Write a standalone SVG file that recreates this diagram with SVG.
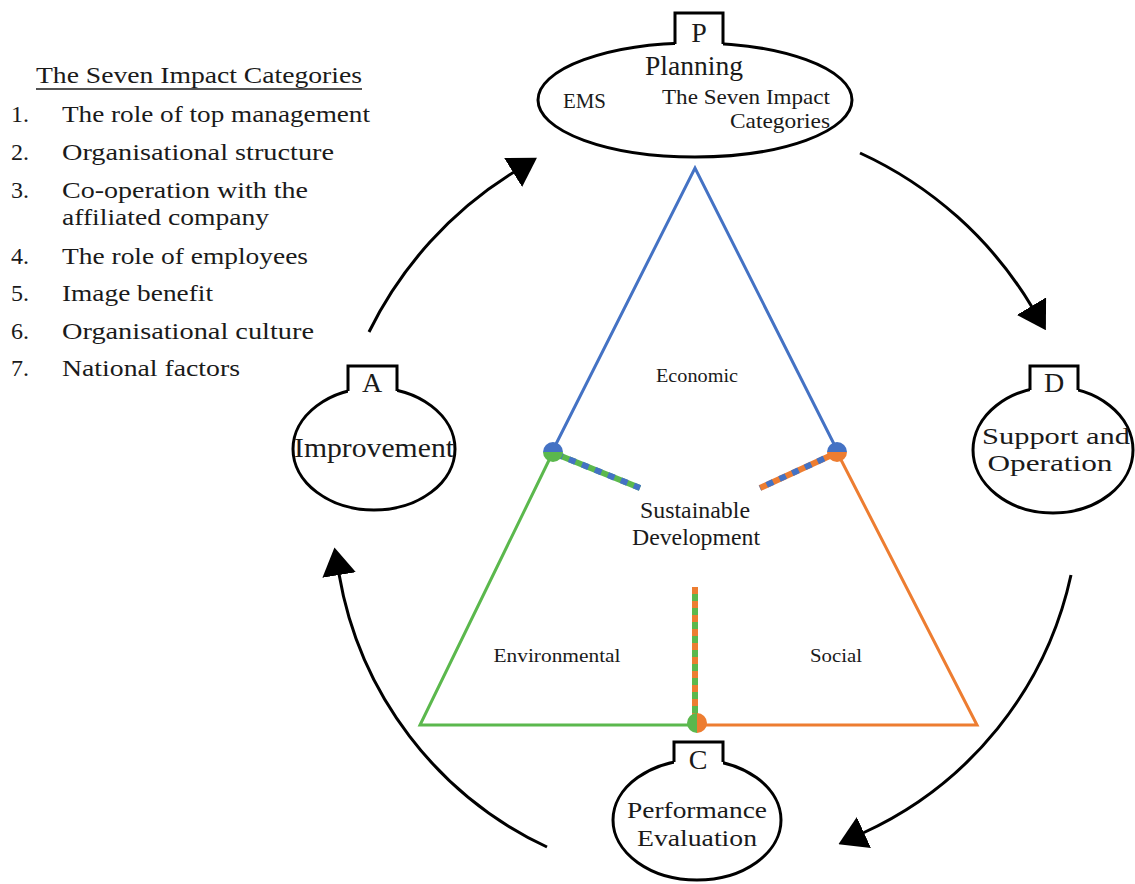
<svg xmlns="http://www.w3.org/2000/svg" width="1135" height="884" viewBox="0 0 1135 884">
<style>
  text { font-family: "Liberation Serif", "Times New Roman", serif; fill: #1a1a1a; }
  .list { font-size: 24px; }
  .node { font-size: 24px; text-anchor: middle; }
  .big { font-size: 27px; text-anchor: middle; }
  .letter { font-size: 28px; text-anchor: middle; }
  .small { font-size: 21px; }
  .pillar { font-size: 18.5px; text-anchor: middle; }
  .sd { font-size: 23px; text-anchor: middle; }
  .shape { fill: #fff; stroke: #000; stroke-width: 3; }
  .tabfill { fill: #fff; stroke: none; }
  .tab { fill: none; stroke: #000; stroke-width: 3; }
  .arc { fill: none; stroke: #000; stroke-width: 3; marker-end: url(#ah); }
  .blue { stroke: #4472C4; }
  .green { stroke: #5BB84D; }
  .orange { stroke: #ED7D31; }
  .edge { fill: none; stroke-width: 3; stroke-linejoin: miter; }
  .stripe { fill: none; stroke-width: 6; }
  .dash { fill: none; stroke-width: 6; stroke-dasharray: 7 7; }
</style>
<defs>
  <marker id="ah" markerUnits="userSpaceOnUse" markerWidth="28" markerHeight="34" viewBox="0 0 28 34" refX="1" refY="17" orient="auto">
    <path d="M0,0 L28,17 L0,34 z" fill="#000"/>
  </marker>
</defs>
<rect width="1135" height="884" fill="#fff"/>

<g id="legend">
  <text class="list" x="36" y="83" textLength="326" lengthAdjust="spacingAndGlyphs">The Seven Impact Categories</text>
  <line x1="36" y1="89" x2="362" y2="89" stroke="#1a1a1a" stroke-width="1.5"/>
  <text class="list" x="11" y="122">1.</text><text class="list" x="62" y="122" textLength="308" lengthAdjust="spacingAndGlyphs">The role of top management</text>
  <text class="list" x="11" y="160">2.</text><text class="list" x="62" y="160" textLength="272" lengthAdjust="spacingAndGlyphs">Organisational structure</text>
  <text class="list" x="11" y="198">3.</text><text class="list" x="62" y="198" textLength="246" lengthAdjust="spacingAndGlyphs">Co-operation with the</text>
  <text class="list" x="62" y="225" textLength="207" lengthAdjust="spacingAndGlyphs">affiliated company</text>
  <text class="list" x="11" y="264">4.</text><text class="list" x="62" y="264" textLength="246" lengthAdjust="spacingAndGlyphs">The role of employees</text>
  <text class="list" x="11" y="301">5.</text><text class="list" x="62" y="301" textLength="151" lengthAdjust="spacingAndGlyphs">Image benefit</text>
  <text class="list" x="11" y="339">6.</text><text class="list" x="62" y="339" textLength="252" lengthAdjust="spacingAndGlyphs">Organisational culture</text>
  <text class="list" x="11" y="376">7.</text><text class="list" x="62" y="376" textLength="178" lengthAdjust="spacingAndGlyphs">National factors</text>
</g>

<g id="connectors">
  <path class="arc" d="M369,332 A 390 390 0 0 1 514,172"/>
  <path class="arc" d="M860,153 A 390 390 0 0 1 1032,307"/>
  <path class="arc" d="M1071,575 A 370 370 0 0 1 863,833"/>
  <path class="arc" d="M547,847 A 370 370 0 0 1 339,574"/>
</g>

<g id="triangle">
  <path class="edge blue" d="M553,450 L695,168 L837,450"/>
  <path class="edge green" d="M553,452 L420,725 L697,725"/>
  <path class="edge orange" d="M837,452 L977,725 L697,725"/>
  <line class="stripe green" x1="556" y1="454" x2="640" y2="488"/>
  <line class="dash blue" x1="556" y1="454" x2="640" y2="488"/>
  <line class="stripe orange" x1="834" y1="454" x2="760" y2="488"/>
  <line class="dash blue" x1="834" y1="454" x2="760" y2="488" stroke-dashoffset="3"/>
  <line class="stripe green" x1="695" y1="587" x2="695" y2="720"/>
  <line class="dash orange" x1="695" y1="587" x2="695" y2="720"/>
  <path d="M543,452 A10,10 0 0 1 563,452 z" fill="#4472C4"/>
  <path d="M543,452 A10,10 0 0 0 563,452 z" fill="#5BB84D"/>
  <path d="M827,452 A10,10 0 0 0 847,452 z" fill="#ED7D31"/>
  <path d="M827,452 A10,10 0 0 1 847,452 z" fill="#4472C4"/>
  <path d="M697,713 A10,10 0 0 0 697,733 z" fill="#5BB84D"/>
  <path d="M697,713 A10,10 0 0 1 697,733 z" fill="#ED7D31"/>
  <text class="pillar" x="697" y="382" textLength="82" lengthAdjust="spacingAndGlyphs">Economic</text>
  <text class="pillar" x="557" y="662" textLength="127" lengthAdjust="spacingAndGlyphs">Environmental</text>
  <text class="pillar" x="836" y="662" textLength="52" lengthAdjust="spacingAndGlyphs">Social</text>
  <text class="sd" x="695" y="518" textLength="110" lengthAdjust="spacingAndGlyphs">Sustainable</text>
  <text class="sd" x="696" y="545" textLength="128" lengthAdjust="spacingAndGlyphs">Development</text>
</g>

<g id="node-p">
  <ellipse class="shape" cx="695" cy="100" rx="157" ry="57"/>
  <rect class="tabfill" x="675" y="13" width="48" height="36"/>
  <path class="tab" d="M675,44 V13 H723 V44"/>
  <text class="letter" x="699" y="42">P</text>
  <text class="big" x="694" y="75" textLength="98" lengthAdjust="spacingAndGlyphs">Planning</text>
  <text class="small" x="563" y="108" textLength="43" lengthAdjust="spacingAndGlyphs">EMS</text>
  <text class="small" x="662" y="104" textLength="168" lengthAdjust="spacingAndGlyphs">The Seven Impact</text>
  <text class="small" x="730" y="128" textLength="100" lengthAdjust="spacingAndGlyphs">Categories</text>
</g>

<g id="node-d">
  <ellipse class="shape" cx="1053" cy="450" rx="80" ry="63"/>
  <rect class="tabfill" x="1030" y="366" width="48" height="30"/>
  <path class="tab" d="M1030,390 V366 H1078 V390"/>
  <text class="letter" x="1054" y="392">D</text>
  <text class="node" x="1056" y="444" textLength="148" lengthAdjust="spacingAndGlyphs">Support and</text>
  <text class="node" x="1050" y="471" textLength="125" lengthAdjust="spacingAndGlyphs">Operation</text>
</g>

<g id="node-c">
  <ellipse class="shape" cx="697" cy="820" rx="84" ry="60"/>
  <rect class="tabfill" x="674" y="742" width="49" height="26"/>
  <path class="tab" d="M674,762 V742 H723 V762"/>
  <text class="letter" x="698" y="769">C</text>
  <text class="node" x="697" y="818" textLength="140" lengthAdjust="spacingAndGlyphs">Performance</text>
  <text class="node" x="697" y="846" textLength="120" lengthAdjust="spacingAndGlyphs">Evaluation</text>
</g>

<g id="node-a">
  <ellipse class="shape" cx="374" cy="449" rx="81" ry="61"/>
  <rect class="tabfill" x="348" y="366" width="49" height="30"/>
  <path class="tab" d="M348,391 V366 H397 V391"/>
  <text class="letter" x="372" y="392">A</text>
  <text class="big" x="374" y="457" textLength="160" lengthAdjust="spacingAndGlyphs">Improvement</text>
</g>
</svg>
